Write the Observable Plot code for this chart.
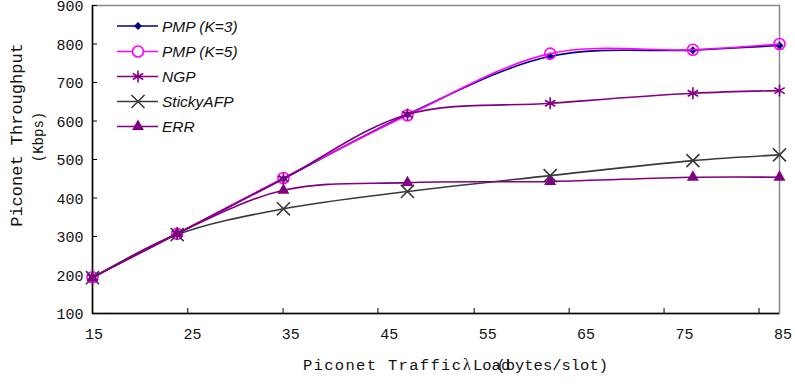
<!DOCTYPE html>
<html>
<head>
<meta charset="utf-8">
<script src="https://cdn.jsdelivr.net/npm/d3@7"></script>
<script src="https://cdn.jsdelivr.net/npm/@observablehq/plot@0.6"></script>
<style>
  html, body { margin: 0; padding: 0; background: #fff; }
</style>
</head>
<body>
<div id="chart"></div>
<script>
// ---- data ----
const xValues = [15, 23.6, 34.4, 47, 61.5, 76, 84.8];
const pmpK3 = [194, 307, 450, 617, 768, 784, 796];
const pmpK5 = [194, 307, 452, 615, 775, 785, 800];
const ngp = [194, 307, 450, 617, 646, 672, 679];
const stickyAFP = [193, 305, 372, 417, 458, 497, 512];
const errVals = [192, 308, 420, 440, 443, 454, 454];
const seriesNames = ["PMP (K=3)", "PMP (K=5)", "NGP", "StickyAFP", "ERR"];
const xTickLabels = [15, 25, 35, 45, 55, 65, 75, 85];
const xTickMarks = [15, 24.68, 34.36, 44.0, 53.78, 63.43, 73.07, 82.72];
const yTicks = [100, 200, 300, 400, 500, 600, 700, 800, 900];

// ---- styles ----
const W = 795, H = 385;
const mL = 92, mR = 16, mT = 5, mB = 72;
const styles = {
  "PMP (K=3)": {color: "#000080", symbol: "diamond2", r: 3.6, filled: true},
  "PMP (K=5)": {color: "#ff00ff", symbol: "circle", r: 5.5, filled: false},
  "NGP": {color: "#800080", symbol: "asterisk", r: 5.7, filled: false},
  "StickyAFP": {color: "#3a3a3a", symbol: "times", r: 6, filled: false},
  "ERR": {color: "#800080", symbol: "triangle2", r: 5.7, filled: true}
};
const seriesValues = [pmpK3, pmpK5, ngp, stickyAFP, errVals];
const rows = [];
seriesNames.forEach((name, i) => {
  seriesValues[i].forEach((v, j) => rows.push({series: name, x: xValues[j], y: v}));
});

const mono = "'Liberation Mono', 'DejaVu Sans Mono', monospace";
const plotW = W - mL - mR, plotH = H - mT - mB;

const marks = [
  Plot.frame({stroke: "#888", strokeWidth: 1.5}),
  Plot.ruleX([15], {stroke: "#000", strokeWidth: 1.5}),
  Plot.ruleY([100], {stroke: "#000", strokeWidth: 1.5}),
  Plot.tickY(yTicks, {y: d => d, insetRight: plotW - 5, stroke: "#000", strokeWidth: 1}),
  Plot.tickX(xTickMarks, {x: d => d, insetTop: plotH - 5, stroke: "#000", strokeWidth: 1}),
  Plot.text(yTicks, {y: d => d, text: d => String(d), frameAnchor: "left", dx: -9, dy: 1, textAnchor: "end",
    fontSize: 15, fontFamily: mono, fill: "#111"}),
  Plot.text(xTickLabels, {x: d => d, text: d => String(d), frameAnchor: "bottom", dy: 25, dx: 1.5,
    fontSize: 15, fontFamily: mono, fill: "#111"})
];
seriesNames.forEach(name => {
  const s = styles[name];
  const data = rows.filter(d => d.series === name);
  marks.push(Plot.line(data, {x: "x", y: "y", stroke: s.color, strokeWidth: 1.6, curve: "catmull-rom"}));
  marks.push(Plot.dot(data, {x: "x", y: "y", symbol: () => s.symbol, r: s.r,
    fill: s.filled ? s.color : "none", stroke: s.filled ? "none" : s.color,
    strokeWidth: s.filled ? 0 : 1.6}));
});

const chart = Plot.plot({
  width: W, height: H,
  marginLeft: mL, marginRight: mR, marginTop: mT, marginBottom: mB,
  x: {domain: [15, 84.8], axis: null},
  y: {domain: [100, 900], axis: null},
  symbol: {type: "identity"},
  style: {background: "#fff", overflow: "visible"},
  marks
});
document.getElementById("chart").appendChild(chart);

// ---- titles and legend ----
const svg = d3.select(chart);
svg.append("text")
  .attr("transform", "translate(22,135) rotate(-90)")
  .attr("text-anchor", "middle")
  .style("font-family", mono).style("font-size", "17px").attr("fill", "#111")
  .text("Piconet Throughput");
svg.append("text")
  .attr("transform", "translate(43,137) rotate(-90)")
  .attr("text-anchor", "middle")
  .style("font-family", mono).style("font-size", "14px").attr("fill", "#111")
  .text("(Kbps)");

const xt = svg.append("g").style("font-family", mono).style("font-size", "15.5px")
  .attr("fill", "#111").attr("text-anchor", "start");
xt.append("text").attr("x", 303).attr("y", 370).attr("textLength", 158).attr("lengthAdjust", "spacing").text("Piconet Traffic");
xt.append("text").attr("x", 463).attr("y", 370).style("font-family", "'Liberation Serif', serif").style("font-size", "16px").text("λ");
xt.append("text").attr("x", 473).attr("y", 370).text("Load");
xt.append("text").attr("x", 608).attr("y", 370).attr("text-anchor", "end").text("(bytes/slot)");

const legendY = [26, 51.5, 76.5, 101.5, 126.5];
const symMap = {diamond2: d3.symbolDiamond2, circle: d3.symbolCircle, asterisk: d3.symbolAsterisk,
  times: d3.symbolTimes, triangle2: d3.symbolTriangle2};
const lg = svg.append("g").attr("text-anchor", "start");
seriesNames.forEach((name, i) => {
  const s = styles[name];
  const g = lg.append("g").attr("transform", `translate(0,${legendY[i]})`);
  g.append("line").attr("x1", 117).attr("x2", 158).attr("y1", 0).attr("y2", 0)
    .attr("stroke", s.color).attr("stroke-width", 1.6);
  g.append("path").attr("transform", "translate(138,0)")
    .attr("d", d3.symbol(symMap[s.symbol], s.r * s.r * Math.PI)())
    .attr("fill", s.filled ? s.color : "#fff")
    .attr("stroke", s.filled ? "none" : s.color).attr("stroke-width", 1.6);
  g.append("text").attr("x", 162).attr("y", 0).attr("dy", "0.36em")
    .style("font-family", "'Liberation Sans', Arial, sans-serif").style("font-style", "italic")
    .style("font-size", "15.5px").attr("fill", "#111").text(name);
});
</script>
</body>
</html>
